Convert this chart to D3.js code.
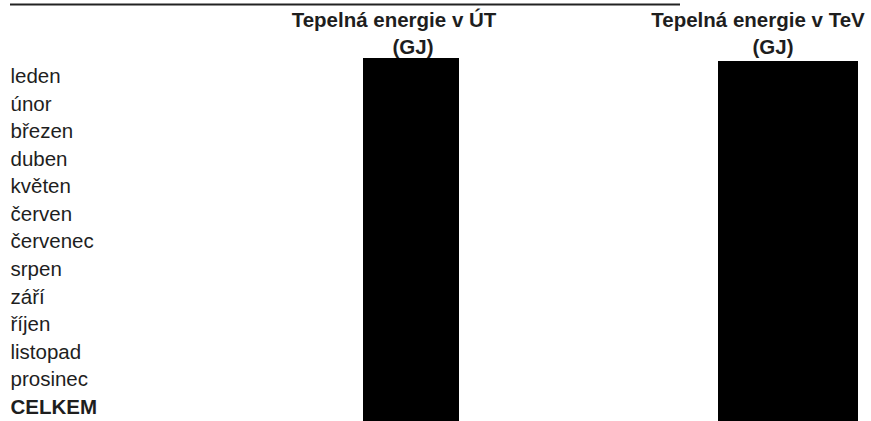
<!DOCTYPE html>
<html><head><meta charset="utf-8">
<script src="https://cdn.jsdelivr.net/npm/d3@7"></script>
<style>html,body{margin:0;padding:0;background:#fff;}svg{display:block;}</style>
</head><body>
<script>
const months = ["leden","únor","březen","duben","květen","červen","červenec","srpen","září","říjen","listopad","prosinec","CELKEM"];
const columns = ["Tepelná energie v ÚT","Tepelná energie v TeV"];
const units = ["(GJ)","(GJ)"];
// values are redacted (blacked out) in the source document
const redacted = [true, true];

const W = 871, H = 421;
const svg = d3.select("body").append("svg").attr("width", W).attr("height", H);
const font = "'Liberation Sans', Arial, sans-serif";

// row scale
const y = d3.scaleBand().domain(months).range([55.4, 55.4 + 27.58 * months.length]);
// column layout: [left, right, headerCenter, unitCenter, redactionTop]
const colX = d3.scaleOrdinal().domain(columns).range([[363, 459, 394, 413, 58], [718, 858, 758, 773, 61]]);

// top rule (remnant of document header)
svg.append("line").attr("x1", 10).attr("x2", 680).attr("y1", 4.5).attr("y2", 4.5)
  .attr("stroke", "#222").attr("stroke-width", 2);

// row labels
svg.selectAll("text.row").data(months).join("text")
  .attr("class", "row")
  .attr("x", 10.5)
  .attr("y", d => y(d) + 27.6)
  .attr("font-family", font)
  .attr("font-size", 20.5)
  .attr("font-weight", d => d === "CELKEM" ? "bold" : "normal")
  .attr("fill", "#1e1e1e")
  .text(d => d);

// column headers
const hg = svg.selectAll("g.col").data(columns).join("g").attr("class", "col");
hg.append("text")
  .attr("x", d => colX(d)[2]).attr("y", 27)
  .attr("text-anchor", "middle")
  .attr("font-family", font).attr("font-size", 20.5).attr("font-weight", "bold")
  .attr("fill", "#1e1e1e")
  .text(d => d);
hg.append("text")
  .attr("x", d => colX(d)[3]).attr("y", 53.5)
  .attr("text-anchor", "middle")
  .attr("font-family", font).attr("font-size", 20.5).attr("font-weight", "bold")
  .attr("fill", "#1e1e1e")
  .text((d, i) => units[i]);

// redaction boxes
hg.filter((d, i) => redacted[i]).append("rect")
  .attr("x", d => colX(d)[0])
  .attr("width", d => colX(d)[1] - colX(d)[0])
  .attr("y", d => colX(d)[4])
  .attr("height", d => H - colX(d)[4])
  .attr("fill", "#000");
</script>
</body></html>
